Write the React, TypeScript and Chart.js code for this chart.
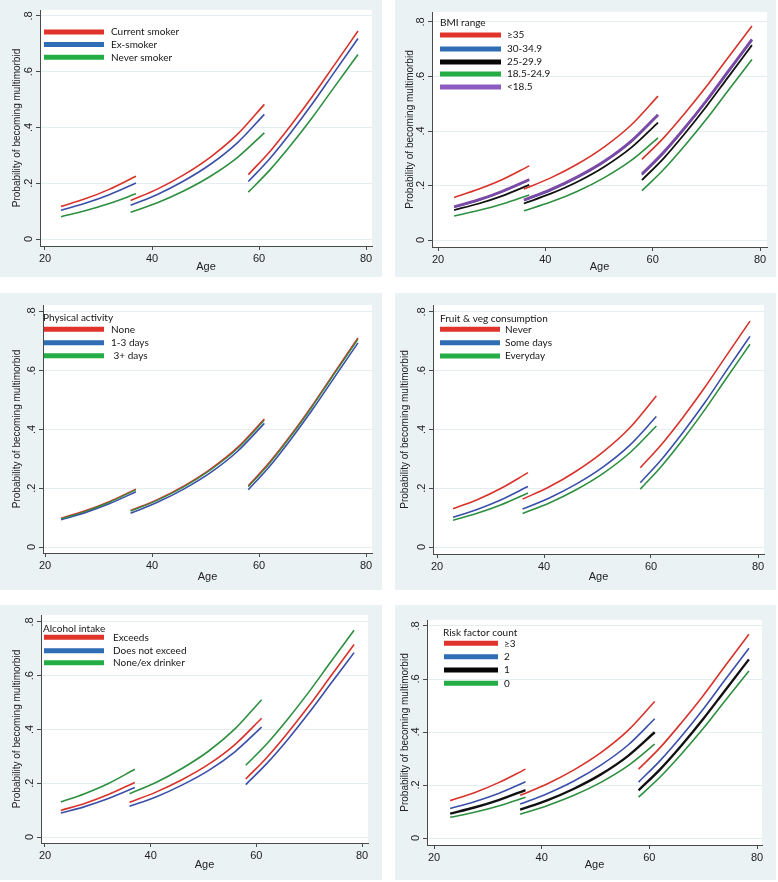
import React, { useEffect, useRef } from "react";
import { Chart, registerables } from "chart.js";

Chart.register(...registerables);

// Ages at which each curve segment is read (three age-group models)
const AGE_A = [23, 27.5, 32, 37];
const AGE_B = [36, 41, 46, 51, 56, 61];
const AGE_C = [58, 62, 66, 70, 74, 78.5];

const X_TICKS = [20, 40, 60, 80];
const Y_TICKS = [0, 0.2, 0.4, 0.6, 0.8];
const Y_TICK_LABELS = ["0", ".2", ".4", ".6", ".8"];
const X_TITLE = "Age";
const Y_TITLE = "Probability of becoming multimorbid";

// Each series: 4 values for ages 23-37, 6 for ages 36-61, 6 for ages 58-78.5
// Panel 1 – smoking
const SMOKING_LABELS = ["Current smoker", "Ex-smoker", "Never smoker"];
const SMOKING_CURRENT = [0.117, 0.144, 0.178, 0.225, 0.138, 0.179, 0.231, 0.295, 0.376, 0.483, 0.231, 0.313, 0.409, 0.512, 0.622, 0.746];
const SMOKING_EX = [0.103, 0.128, 0.159, 0.201, 0.121, 0.16, 0.209, 0.269, 0.346, 0.447, 0.206, 0.288, 0.383, 0.486, 0.596, 0.719];
const SMOKING_NEVER = [0.08, 0.101, 0.127, 0.162, 0.096, 0.13, 0.173, 0.226, 0.293, 0.381, 0.168, 0.247, 0.338, 0.437, 0.543, 0.662];

// Panel 2 – BMI
const BMI_TITLE = "BMI range";
const BMI_LABELS = ["≥35", "30-34.9", "25-29.9", "18.5-24.9", "<18.5"];
const BMI_35 = [0.156, 0.186, 0.222, 0.272, 0.187, 0.228, 0.279, 0.342, 0.422, 0.528, 0.296, 0.374, 0.465, 0.563, 0.668, 0.785];
const BMI_30 = [0.12, 0.145, 0.177, 0.22, 0.145, 0.182, 0.229, 0.287, 0.36, 0.457, 0.239, 0.318, 0.409, 0.508, 0.614, 0.732];
const BMI_25 = [0.11, 0.133, 0.162, 0.202, 0.134, 0.17, 0.214, 0.269, 0.339, 0.431, 0.22, 0.299, 0.391, 0.49, 0.596, 0.715];
const BMI_18 = [0.088, 0.108, 0.132, 0.165, 0.107, 0.139, 0.179, 0.229, 0.292, 0.375, 0.181, 0.258, 0.347, 0.443, 0.547, 0.662];
const BMI_UNDER = [0.122, 0.147, 0.179, 0.222, 0.147, 0.185, 0.232, 0.289, 0.363, 0.46, 0.242, 0.321, 0.412, 0.511, 0.617, 0.736];

// Panel 3 – physical activity
const PA_TITLE = "Physical activity";
const PA_LABELS = ["None", "1-3 days", " 3+ days"];
const PA_NONE = [0.098, 0.123, 0.154, 0.197, 0.124, 0.161, 0.208, 0.266, 0.339, 0.436, 0.208, 0.289, 0.382, 0.483, 0.591, 0.712];
const PA_1TO3 = [0.093, 0.117, 0.147, 0.188, 0.115, 0.152, 0.198, 0.254, 0.326, 0.421, 0.195, 0.275, 0.368, 0.468, 0.575, 0.695];
const PA_3PLUS = [0.096, 0.121, 0.152, 0.195, 0.122, 0.159, 0.205, 0.263, 0.335, 0.431, 0.205, 0.285, 0.378, 0.479, 0.587, 0.707];

// Panel 4 – fruit & veg
const FV_TITLE = "Fruit & veg consumption";
const FV_LABELS = ["Never", "Some days", "Everyday"];
const FV_NEVER = [0.13, 0.161, 0.2, 0.253, 0.163, 0.205, 0.258, 0.323, 0.405, 0.514, 0.27, 0.35, 0.442, 0.542, 0.649, 0.769];
const FV_SOME = [0.101, 0.128, 0.161, 0.206, 0.129, 0.167, 0.214, 0.272, 0.346, 0.444, 0.219, 0.299, 0.391, 0.49, 0.598, 0.717];
const FV_EVERY = [0.091, 0.115, 0.144, 0.184, 0.114, 0.15, 0.195, 0.25, 0.32, 0.412, 0.197, 0.276, 0.367, 0.466, 0.572, 0.69];

// Panel 5 – alcohol
const ALC_TITLE = "Alcohol intake";
const ALC_LABELS = ["Exceeds", "Does not exceed", "None/ex drinker"];
const ALC_EXCEEDS = [0.099, 0.125, 0.158, 0.203, 0.129, 0.167, 0.214, 0.271, 0.345, 0.442, 0.216, 0.296, 0.389, 0.489, 0.596, 0.716];
const ALC_NOT = [0.089, 0.113, 0.143, 0.184, 0.114, 0.149, 0.194, 0.248, 0.318, 0.409, 0.195, 0.274, 0.364, 0.463, 0.568, 0.686];
const ALC_NONE = [0.13, 0.161, 0.199, 0.252, 0.161, 0.203, 0.256, 0.32, 0.403, 0.511, 0.267, 0.347, 0.44, 0.541, 0.649, 0.769];

// Panel 6 – risk factor count
const RF_TITLE = "Risk factor count";
const RF_LABELS = ["≥3", "2", "1", "0"];
const RF_3 = [0.141, 0.171, 0.209, 0.26, 0.161, 0.204, 0.257, 0.322, 0.405, 0.515, 0.26, 0.341, 0.436, 0.537, 0.647, 0.769];
const RF_2 = [0.111, 0.137, 0.168, 0.212, 0.128, 0.167, 0.215, 0.275, 0.35, 0.45, 0.211, 0.292, 0.385, 0.486, 0.595, 0.716];
const RF_1 = [0.092, 0.115, 0.143, 0.181, 0.107, 0.142, 0.186, 0.24, 0.309, 0.399, 0.18, 0.259, 0.35, 0.449, 0.555, 0.674];
const RF_0 = [0.078, 0.097, 0.121, 0.154, 0.09, 0.122, 0.161, 0.21, 0.272, 0.354, 0.154, 0.23, 0.318, 0.413, 0.516, 0.63];

// Styles
const BG = "#eaf2f4";
const GRID = "#e4edf0";
const AXIS = "#4a4a4a";
const TEXT = "#222222";
const AXIS_FONT = '"Liberation Sans", Arial, sans-serif';
const LEGEND_FONT = 'Lato, "Open Sans", sans-serif';

const LINE = { red: "#d8322a", blue: "#3a4fa8", green: "#2d8f3f", black: "#111111", purple: "#7a4aa6" };
const SWATCH = { red: "#e0332b", blue: "#2f6db4", green: "#25ad45", black: "#050505", purple: "#8e5cc0" };

type Series = { values: number[]; color: keyof typeof LINE; width: number; z: number };
type Legend = { title?: string; titleX?: number; titleY?: number; swX0: number; swX1: number; rows: number[]; textX: number; labels: string[] };
type PanelCfg = {
  left: number; top: number; width: number; height: number;
  area: { l: number; r: number; t: number; b: number };
  y0: number; y8: number; x20: number; x80: number;
  yTitleX: number; xTitleY: number;
  series: Series[]; legend: Legend;
};

const PANELS: PanelCfg[] = [
  {
    left: 0, top: 0, width: 382, height: 277,
    area: { l: 40, r: 372, t: 10, b: 246 }, y0: 239, y8: 16, x20: 45, x80: 366,
    yTitleX: 17, xTitleY: 267,
    series: [
      { values: SMOKING_CURRENT, color: "red", width: 1.6, z: 3 },
      { values: SMOKING_EX, color: "blue", width: 1.6, z: 2 },
      { values: SMOKING_NEVER, color: "green", width: 1.6, z: 1 },
    ],
    legend: { swX0: 44, swX1: 104, rows: [32, 44.5, 57.3], textX: 111, labels: SMOKING_LABELS },
  },
  {
    left: 395, top: 0, width: 381, height: 277,
    area: { l: 37, r: 372, t: 12, b: 247 }, y0: 240, y8: 22, x20: 43, x80: 365,
    yTitleX: 15.7, xTitleY: 267,
    series: [
      { values: BMI_35, color: "red", width: 1.6, z: 5 },
      { values: BMI_30, color: "blue", width: 1.6, z: 3 },
      { values: BMI_25, color: "black", width: 1.8, z: 2 },
      { values: BMI_18, color: "green", width: 1.6, z: 1 },
      { values: BMI_UNDER, color: "purple", width: 2.8, z: 4 },
    ],
    legend: { title: BMI_TITLE, titleX: 45, titleY: 23, swX0: 45, swX1: 106, rows: [35, 49, 62, 74, 87], textX: 112, labels: BMI_LABELS },
  },
  {
    left: 0, top: 293, width: 382, height: 297,
    area: { l: 43, r: 372, t: 12, b: 260 }, y0: 254, y8: 19, x20: 45, x80: 366,
    yTitleX: 17, xTitleY: 283.7,
    series: [
      { values: PA_NONE, color: "red", width: 1.6, z: 1 },
      { values: PA_1TO3, color: "blue", width: 1.6, z: 2 },
      { values: PA_3PLUS, color: "green", width: 1.2, z: 3 },
    ],
    legend: { title: PA_TITLE, titleX: 43, titleY: 25, swX0: 44, swX1: 104, rows: [36.3, 49.7, 62.7], textX: 111, labels: PA_LABELS },
  },
  {
    left: 395, top: 293, width: 381, height: 297,
    area: { l: 38, r: 369, t: 12, b: 261 }, y0: 254, y8: 19, x20: 42, x80: 363,
    yTitleX: 10.7, xTitleY: 283.7,
    series: [
      { values: FV_NEVER, color: "red", width: 1.6, z: 3 },
      { values: FV_SOME, color: "blue", width: 1.6, z: 2 },
      { values: FV_EVERY, color: "green", width: 1.6, z: 1 },
    ],
    legend: { title: FV_TITLE, titleX: 45, titleY: 25.3, swX0: 45, swX1: 105, rows: [36.3, 49.7, 63], textX: 110, labels: FV_LABELS },
  },
  {
    left: 0, top: 605, width: 382, height: 275,
    area: { l: 41, r: 368, t: 10, b: 238 }, y0: 232, y8: 17, x20: 45, x80: 362,
    yTitleX: 17, xTitleY: 260,
    series: [
      { values: ALC_EXCEEDS, color: "red", width: 1.6, z: 2 },
      { values: ALC_NOT, color: "blue", width: 1.6, z: 1 },
      { values: ALC_NONE, color: "green", width: 1.6, z: 3 },
    ],
    legend: { title: ALC_TITLE, titleX: 43, titleY: 23.3, swX0: 44, swX1: 104, rows: [32.3, 45.7, 57.7], textX: 113, labels: ALC_LABELS },
  },
  {
    left: 395, top: 605, width: 381, height: 275,
    area: { l: 32, r: 367, t: 15, b: 240 }, y0: 233, y8: 21, x20: 39, x80: 362,
    yTitleX: 10.7, xTitleY: 260,
    series: [
      { values: RF_3, color: "red", width: 1.6, z: 4 },
      { values: RF_2, color: "blue", width: 1.6, z: 3 },
      { values: RF_1, color: "black", width: 2.4, z: 2 },
      { values: RF_0, color: "green", width: 1.6, z: 1 },
    ],
    legend: { title: RF_TITLE, titleX: 48, titleY: 27.7, swX0: 49, swX1: 103, rows: [38.3, 51.7, 65, 78.3], textX: 109, labels: RF_LABELS },
  },
];

const SEGMENTS: [number[], number][] = [
  [AGE_A, 0],
  [AGE_B, 4],
  [AGE_C, 10],
];

function PanelChart({ cfg }: { cfg: PanelCfg }) {
  const ref = useRef<HTMLCanvasElement>(null);
  useEffect(() => {
    const canvas = ref.current;
    if (!canvas) return;
    const { width: W, height: H, area, y0, y8, x20, x80 } = cfg;
    const yppu = (y0 - y8) / 0.8;
    const yMin = -(area.b - y0) / yppu;
    const yMax = 0.8 + (y8 - area.t) / yppu;
    const xppu = (x80 - x20) / 60;
    const xMin = 20 - (x20 - area.l) / xppu;
    const xMax = 80 + (area.r - x80) / xppu;

    const datasets: any[] = [];
    cfg.series.forEach((s) => {
      SEGMENTS.forEach(([ages, off]) => {
        datasets.push({
          data: ages.map((a, i) => ({ x: a, y: s.values[off + i] })),
          borderColor: LINE[s.color],
          borderWidth: s.width,
          pointRadius: 0,
          fill: false,
          cubicInterpolationMode: "monotone",
          order: -s.z,
        });
      });
    });

    const lg = cfg.legend;
    const panelPlugin = {
      id: "panelDecor",
      beforeDraw(chart: any) {
        const ctx = chart.ctx;
        const ca = chart.chartArea;
        ctx.save();
        ctx.fillStyle = BG;
        ctx.fillRect(0, 0, W, H);
        ctx.fillStyle = "#ffffff";
        ctx.fillRect(ca.left, ca.top, ca.right - ca.left, ca.bottom - ca.top);
        ctx.restore();
      },
      afterDraw(chart: any) {
        const ctx = chart.ctx;
        const ca = chart.chartArea;
        const ys = chart.scales.y;
        ctx.save();
        // rotated y tick labels
        ctx.fillStyle = TEXT;
        ctx.font = `11px ${AXIS_FONT}`;
        ctx.textAlign = "center";
        ctx.textBaseline = "alphabetic";
        Y_TICKS.forEach((v, i) => {
          const py = ys.getPixelForValue(v);
          ctx.save();
          ctx.translate(ca.left - 8, py);
          ctx.rotate(-Math.PI / 2);
          ctx.fillText(Y_TICK_LABELS[i], 0, 0);
          ctx.restore();
        });
        // legend
        ctx.font = `10px ${LEGEND_FONT}`;
        ctx.textAlign = "left";
        ctx.textBaseline = "middle";
        if (lg.title) {
          ctx.fillStyle = "#151515";
          ctx.fillText(lg.title, lg.titleX, lg.titleY);
        }
        lg.labels.forEach((label, i) => {
          const s = cfg.series[i];
          const y = lg.rows[i];
          ctx.strokeStyle = SWATCH[s.color];
          ctx.lineWidth = 5;
          ctx.lineCap = "butt";
          ctx.beginPath();
          ctx.moveTo(lg.swX0, y);
          ctx.lineTo(lg.swX1, y);
          ctx.stroke();
          ctx.fillStyle = "#151515";
          ctx.fillText(label, lg.textX, y);
        });
        ctx.restore();
      },
    };

    const chart = new Chart(canvas, {
      type: "line",
      data: { datasets },
      options: {
        responsive: false,
        animation: false,
        devicePixelRatio: 1,
        layout: { padding: { left: 0, top: area.t, right: W - area.r, bottom: 0 } },
        plugins: { legend: { display: false }, tooltip: { enabled: false } },
        elements: { line: { borderCapStyle: "butt" } },
        scales: {
          x: {
            type: "linear",
            min: xMin,
            max: xMax,
            afterBuildTicks: (s: any) => {
              s.ticks = X_TICKS.map((v) => ({ value: v }));
            },
            afterFit: (s: any) => {
              s.height = H - area.b;
            },
            grid: { drawOnChartArea: false, tickLength: 4, tickColor: AXIS, color: AXIS },
            border: { display: true, color: AXIS, width: 1 },
            ticks: {
              color: TEXT,
              font: { family: AXIS_FONT, size: 11 },
              padding: 2,
              maxRotation: 0,
              minRotation: 0,
              callback: (v: any) => String(v),
            },
            title: {
              display: true,
              text: X_TITLE,
              color: TEXT,
              font: { family: AXIS_FONT, size: 11 },
              padding: { top: 0, bottom: H - cfg.xTitleY - 6.6 },
            },
          },
          y: {
            type: "linear",
            min: yMin,
            max: yMax,
            afterBuildTicks: (s: any) => {
              s.ticks = Y_TICKS.map((v) => ({ value: v }));
            },
            afterFit: (s: any) => {
              s.width = area.l;
            },
            grid: { color: GRID, lineWidth: 1, tickLength: 4, tickColor: AXIS },
            border: { display: true, color: AXIS, width: 1 },
            ticks: { display: false },
            title: {
              display: true,
              text: Y_TITLE,
              color: TEXT,
              font: { family: AXIS_FONT, size: 10 },
              padding: { top: cfg.yTitleX - 6, bottom: 0 },
            },
          },
        },
      } as any,
      plugins: [panelPlugin],
    });
    return () => chart.destroy();
  }, [cfg]);

  return (
    <div style={{ position: "absolute", left: cfg.left, top: cfg.top, width: cfg.width, height: cfg.height }}>
      <canvas ref={ref} width={cfg.width} height={cfg.height} style={{ display: "block", width: cfg.width, height: cfg.height }} />
    </div>
  );
}

export default function App() {
  return (
    <div style={{ position: "absolute", left: 0, top: 0, width: 778, height: 882, background: "#ffffff" }}>
      {PANELS.map((p, i) => (
        <PanelChart key={i} cfg={p} />
      ))}
    </div>
  );
}
